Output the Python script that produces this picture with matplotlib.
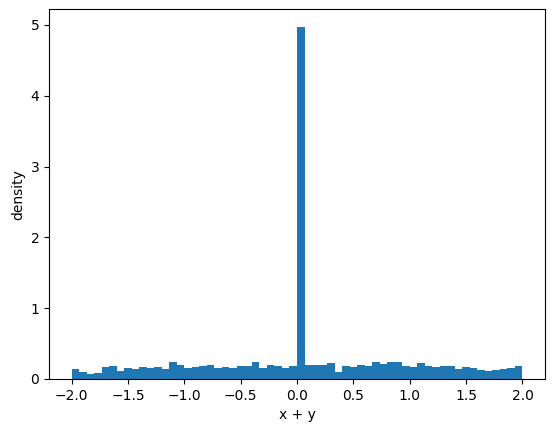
import numpy as np
import matplotlib
matplotlib.use("Agg")
import matplotlib.pyplot as plt

# Histogram of x + y, 60 bins on [-2, 2], density normalised
bin_lo, bin_hi, n_bins = -2.0, 2.0, 60
# bar heights (density units)
heights = [
    0.141, 0.099, 0.071, 0.085, 0.169, 0.184, 0.113, 0.155, 0.141, 0.169,
    0.155, 0.169, 0.141, 0.240, 0.198, 0.155, 0.169, 0.184, 0.198, 0.155,
    0.169, 0.155, 0.184, 0.184, 0.240, 0.155, 0.198, 0.184, 0.155, 0.184,
    4.970, 0.198, 0.198, 0.198, 0.226, 0.099, 0.184, 0.169, 0.198, 0.184,
    0.240, 0.212, 0.240, 0.240, 0.184, 0.169, 0.226, 0.184, 0.169, 0.184,
    0.184, 0.141, 0.169, 0.155, 0.127, 0.113, 0.127, 0.141, 0.155, 0.184,
]

edges = np.linspace(bin_lo, bin_hi, n_bins + 1)
centers = 0.5 * (edges[:-1] + edges[1:])

fig = plt.figure(figsize=(5.54, 4.32), dpi=100)
ax = fig.add_axes([49 / 554, 53 / 432, 496 / 554, 369.6 / 432])

ax.hist(centers, bins=edges, weights=heights)
ax.set_xlabel("x + y")
ax.set_ylabel("density")

fig.savefig("out.png", dpi=100)
